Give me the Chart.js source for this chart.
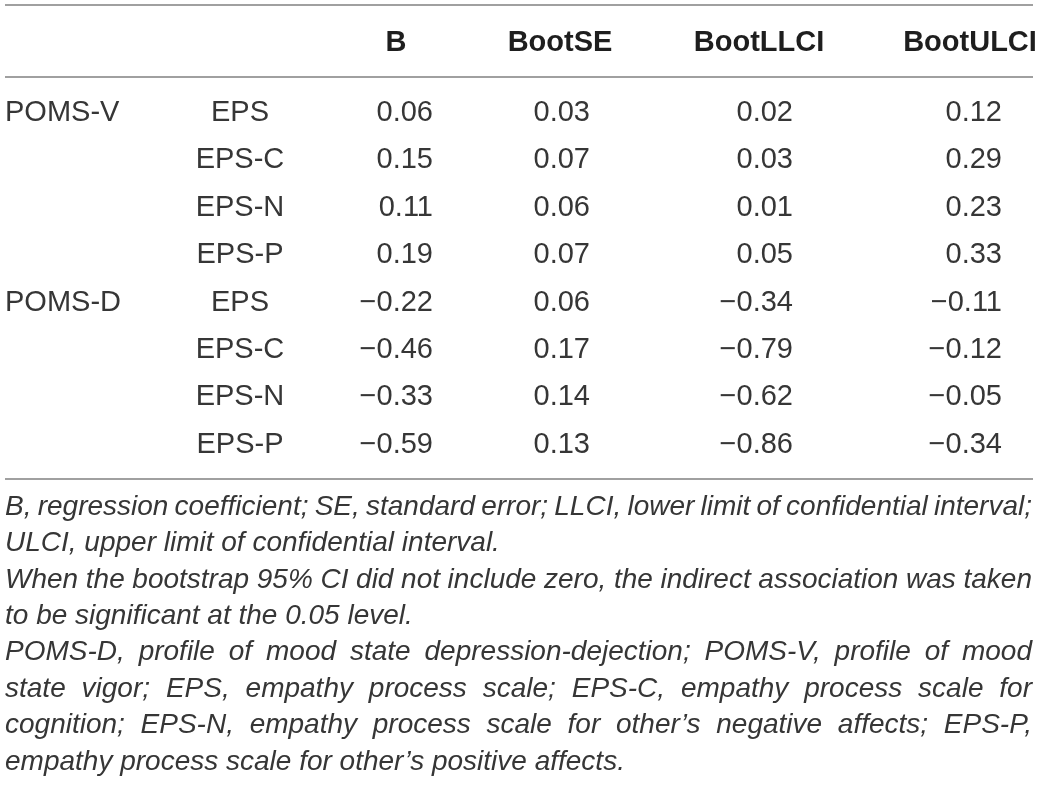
<!DOCTYPE html>
<html>
<head>
<meta charset="utf-8">
<script src="https://cdn.jsdelivr.net/npm/chart.js@4/dist/chart.umd.min.js"></script>
<style>
  html, body { margin: 0; padding: 0; background: #fff; }
  #tbl { display: block; }
</style>
</head>
<body>
<canvas id="tbl" width="1041" height="789"></canvas>
<script>
// table content
var groups = ['POMS-V', 'POMS-D'];
var predictors = ['EPS', 'EPS-C', 'EPS-N', 'EPS-P'];
var headers = ['B', 'BootSE', 'BootLLCI', 'BootULCI'];

var bValues  = [0.06, 0.15, 0.11, 0.19, -0.22, -0.46, -0.33, -0.59];
var bootSE   = [0.03, 0.07, 0.06, 0.07, 0.06, 0.17, 0.14, 0.13];
var bootLLCI = [0.02, 0.03, 0.01, 0.05, -0.34, -0.79, -0.62, -0.86];
var bootULCI = [0.12, 0.29, 0.23, 0.33, -0.11, -0.12, -0.05, -0.34];

// footnote lines, last line of each paragraph is not justified
var notes = [
  ['B, regression coefficient; SE, standard error; LLCI, lower limit of confidential interval;',
   'ULCI, upper limit of confidential interval.'],
  ['When the bootstrap 95% CI did not include zero, the indirect association was taken',
   'to be significant at the 0.05 level.'],
  ['POMS-D, profile of mood state depression-dejection; POMS-V, profile of mood',
   'state vigor; EPS, empathy process scale; EPS-C, empathy process scale for',
   'cognition; EPS-N, empathy process scale for other\u2019s negative affects; EPS-P,',
   'empathy process scale for other\u2019s positive affects.']
];

// layout (pixels on the 1041x789 canvas)
var FONT = '"Liberation Sans", Arial, Helvetica, sans-serif';
var rowTop = 112, rowStep = 47.4, headerY = 42;
var colGroupX = 5, colPredX = 240;
var valueRight = [433, 590, 793, 1002];
var headerMid = [396, 560, 759, 970];
var rules = [5, 77, 479];
var noteTop = 507, noteStep = 36.4, noteLeft = 5, noteRight = 1032;

function fmt(v) {
  var s = Math.abs(v).toFixed(2);
  return v < 0 ? '\u2212' + s : s;
}

var nRows = bValues.length;
var valueCols = [bValues, bootSE, bootLLCI, bootULCI];

var datasets = [];
// group label column
datasets.push({
  labels: groups, align: 'left', bold: false,
  data: groups.map(function(g, i) { return {x: colGroupX, y: rowTop + rowStep * i * predictors.length}; })
});
// predictor column
var predLabels = [];
for (var r = 0; r < nRows; r++) predLabels.push(predictors[r % predictors.length]);
datasets.push({
  labels: predLabels, align: 'center', bold: false,
  data: predLabels.map(function(p, i) { return {x: colPredX, y: rowTop + rowStep * i}; })
});
// header row
datasets.push({
  labels: headers, align: 'center', bold: true,
  data: headers.map(function(h, i) { return {x: headerMid[i], y: headerY}; })
});
// value columns
valueCols.forEach(function(col, c) {
  datasets.push({
    labels: col.map(fmt), align: 'right', bold: false,
    data: col.map(function(v, i) { return {x: valueRight[c], y: rowTop + rowStep * i}; })
  });
});

var tablePlugin = {
  id: 'tableCells',
  beforeDraw: function(chart) {
    var ctx = chart.ctx;
    ctx.save();
    ctx.fillStyle = '#fff';
    ctx.fillRect(0, 0, chart.width, chart.height);
    ctx.restore();
  },
  afterDatasetsDraw: function(chart) {
    var ctx = chart.ctx;
    var xs = chart.scales.x, ys = chart.scales.y;
    ctx.save();

    // horizontal rules
    ctx.strokeStyle = '#a0a0a0';
    ctx.lineWidth = 2;
    rules.forEach(function(ry) {
      var py = ys.getPixelForValue(ry);
      ctx.beginPath();
      ctx.moveTo(xs.getPixelForValue(5), py);
      ctx.lineTo(xs.getPixelForValue(1033), py);
      ctx.stroke();
    });

    // cells
    ctx.textBaseline = 'middle';
    chart.data.datasets.forEach(function(ds, d) {
      var meta = chart.getDatasetMeta(d);
      ctx.font = (ds.bold ? 'bold 29px ' : '29px ') + FONT;
      ctx.fillStyle = ds.bold ? '#1e1e1e' : '#363636';
      ctx.textAlign = ds.align;
      meta.data.forEach(function(pt, i) {
        ctx.fillText(ds.labels[i], pt.x, pt.y + 1);
      });
    });

    // footnotes, justified
    ctx.font = 'italic 28px ' + FONT;
    ctx.fillStyle = '#363636';
    ctx.textAlign = 'left';
    var left = xs.getPixelForValue(noteLeft), right = xs.getPixelForValue(noteRight);
    var line = 0;
    notes.forEach(function(par) {
      par.forEach(function(txt, k) {
        var y = ys.getPixelForValue(noteTop + noteStep * line);
        var last = k === par.length - 1;
        if (last) {
          ctx.fillText(txt, left, y);
        } else {
          var words = txt.split(' ');
          var w = 0;
          words.forEach(function(wd) { w += ctx.measureText(wd).width; });
          var gap = (right - left - w) / (words.length - 1);
          var x = left;
          words.forEach(function(wd) {
            ctx.fillText(wd, x, y);
            x += ctx.measureText(wd).width + gap;
          });
        }
        line++;
      });
    });
    ctx.restore();
  }
};

new Chart(document.getElementById('tbl'), {
  type: 'scatter',
  data: { datasets: datasets },
  options: {
    responsive: false,
    animation: false,
    events: [],
    layout: { padding: 0 },
    elements: { point: { radius: 0, hoverRadius: 0 } },
    plugins: { legend: { display: false }, tooltip: { enabled: false } },
    scales: {
      x: { type: 'linear', min: 0, max: 1041, display: false },
      y: { type: 'linear', min: 0, max: 789, reverse: true, display: false }
    }
  },
  plugins: [tablePlugin]
});
</script>
</body>
</html>
